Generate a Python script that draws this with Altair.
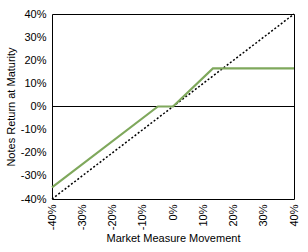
import altair as alt
import pandas as pd

note_x = [-40, -5, 0, 13.2, 40]
note_y = [-35, 0, 0, 16.5, 16.5]
diag_x = [-40, 40]
diag_y = [-40, 40]
ticks = [-40, -30, -20, -10, 0, 10, 20, 30, 40]

notes = pd.DataFrame({"x": note_x, "y": note_y})
diag = pd.DataFrame({"x": diag_x, "y": diag_y})
zero = pd.DataFrame({"x": [-40, 40], "y": [0, 0]})

font = "Liberation Sans"
xs = alt.Scale(domain=[-40, 40], nice=False, zero=False)
ys = alt.Scale(domain=[-40, 40], nice=False, zero=False)

xaxis = alt.Axis(values=ticks, labelExpr="datum.value + '%'", labelAngle=-90,
                 title="Market Measure Movement", grid=False, ticks=False,
                 domain=False, labelFont=font, labelFontSize=11, labelColor="black",
                 titleFont=font, titleFontSize=11, titleFontWeight="normal",
                 titleColor="black", labelPadding=5, titlePadding=3,
                 labelBaseline="middle", labelAlign="right",
                 labelOverlap=False, labelFlush=False, labelBound=False)
yaxis = alt.Axis(values=ticks, labelExpr="datum.value + '%'",
                 title="Notes Return at Maturity", grid=False, ticks=False,
                 domain=False, labelFont=font, labelFontSize=11, labelColor="black",
                 titleFont=font, titleFontSize=11, titleFontWeight="normal",
                 titleColor="black", labelPadding=6, titlePadding=4,
                 labelOverlap=False, labelFlush=False, labelBound=False)

def enc(c):
    return c.encode(x=alt.X("x:Q", scale=xs, axis=xaxis),
                    y=alt.Y("y:Q", scale=ys, axis=yaxis))

zl = enc(alt.Chart(zero).mark_line(color="black", strokeWidth=1))
dl = enc(alt.Chart(diag).mark_line(color="black", strokeWidth=1.5, strokeDash=[2, 2]))
nl = enc(alt.Chart(notes).mark_line(color="#7fa85c", strokeWidth=2.2))

chart = (zl + dl + nl).properties(
    width=242, height=185,
    autosize=alt.AutoSizeParams(type="none"),
    padding={"left": 52, "top": 14, "right": 14, "bottom": 53},
    background="white",
).configure_view(stroke="black", strokeWidth=1)

chart.save("out.html", embed_options={"renderer": "svg", "actions": False})
